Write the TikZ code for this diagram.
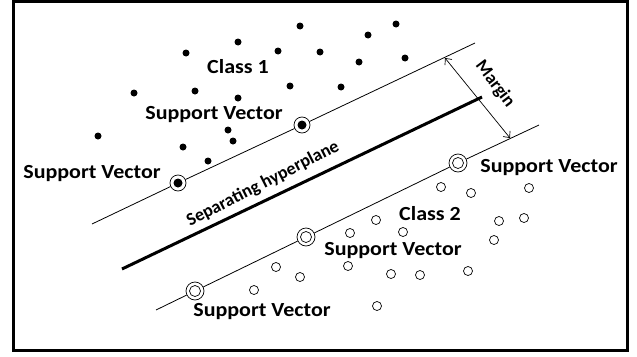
\documentclass[tikz,border=0pt]{standalone}
\usepackage{fontspec}
\setmainfont{Carlito}
\usetikzlibrary{arrows.meta}

\begin{document}
\begin{tikzpicture}[x=1pt,y=-1pt,
    lbl/.style={font=\bfseries\fontsize{20}{24}\selectfont,inner sep=0pt,xscale=1.1},
    slbl/.style={font=\bfseries\fontsize{18}{22}\selectfont,inner sep=0pt},
    cls1/.style={circle,fill=black,inner sep=0pt,minimum size=7pt},
    cls2/.style={circle,draw,line width=0.7pt,inner sep=0pt,minimum size=9pt},
    sv1/.style={circle,draw,fill=white,line width=0.7pt,inner sep=0pt,minimum size=16pt,
      path picture={\fill[black] (path picture bounding box.center) circle (4.5pt);}},
    sv2/.style={circle,draw,fill=white,line width=0.7pt,inner sep=0pt,minimum size=18pt,
      path picture={\draw[line width=0.7pt] (path picture bounding box.center) circle (5.5pt);}}]
        \useasboundingbox (0,0) rectangle (637,356);
        \draw[line width=3.5pt] (13.5,1.5) rectangle (627.5,350.5);

        % margin lines and hyperplane
        \coordinate (u1) at (92,224);
        \coordinate (u2) at (475,43);
        \coordinate (l1) at (156,310);
        \coordinate (l2) at (539,125);
        \coordinate (h1) at (122,269);
        \coordinate (h2) at (482,97);

        \node[sv1] (sva) at (178,183) {};
        \node[sv1] (svb) at (302,125) {};
        \node[sv2] (svc) at (195,291) {};
        \node[sv2] (svd) at (306,237) {};
        \node[sv2] (sve) at (458,163) {};

        \draw[line width=0.8pt] (u1) -- (sva) -- (svb) -- (u2);
        \draw[line width=0.8pt] (l1) -- (svc) -- (svd) -- (sve) -- (l2);
        \draw[line width=3pt] (h1) -- (h2);

        \coordinate (m1) at (445,58);
        \coordinate (m2) at (510,138);
        \draw[{Straight Barb[length=5pt,width=9pt]}-{Straight Barb[length=5pt,width=9pt]},line width=0.7pt] (m1) -- (m2);
        \node[slbl,rotate=-53] (mrg) at (495,84) {Margin};
        \node[slbl,rotate=27] (hyp) at (263,184) {Separating hyperplane};

        % class 1
        \foreach \x/\y [count=\i] in {396/24,368/35,300/26,238/42,186/53,278/51,320/52,359/62,405/58,
          134/93,195/91,238/98,290/86,341/87,98/136,228/130,233/141,183/147,208/161} {
          \node[cls1] (a\i) at (\x,\y) {};
        }

        % class 2
        \foreach \x/\y [count=\i] in {441/187,471/193,529/188,376/220,499/221,524/218,350/233,403/232,
          494/240,348/266,391/274,420/275,468/271,377/306,276/267,300/277,254/290} {
          \node[cls2] (b\i) at (\x,\y) {};
        }

        \node[lbl] (cone) at (238,67) {Class 1};
        \node[lbl] (ctwo) at (430,214) {Class 2};
        \node[lbl] (txta) at (214,115) {Support Vector};
        \node[lbl] (txtb) at (92,174) {Support Vector};
        \node[lbl] (txtc) at (549,168) {Support Vector};
        \node[lbl] (txtd) at (393,251) {Support Vector};
        \node[lbl] (txte) at (262,312) {Support Vector};
      \end{tikzpicture}
\end{document}
